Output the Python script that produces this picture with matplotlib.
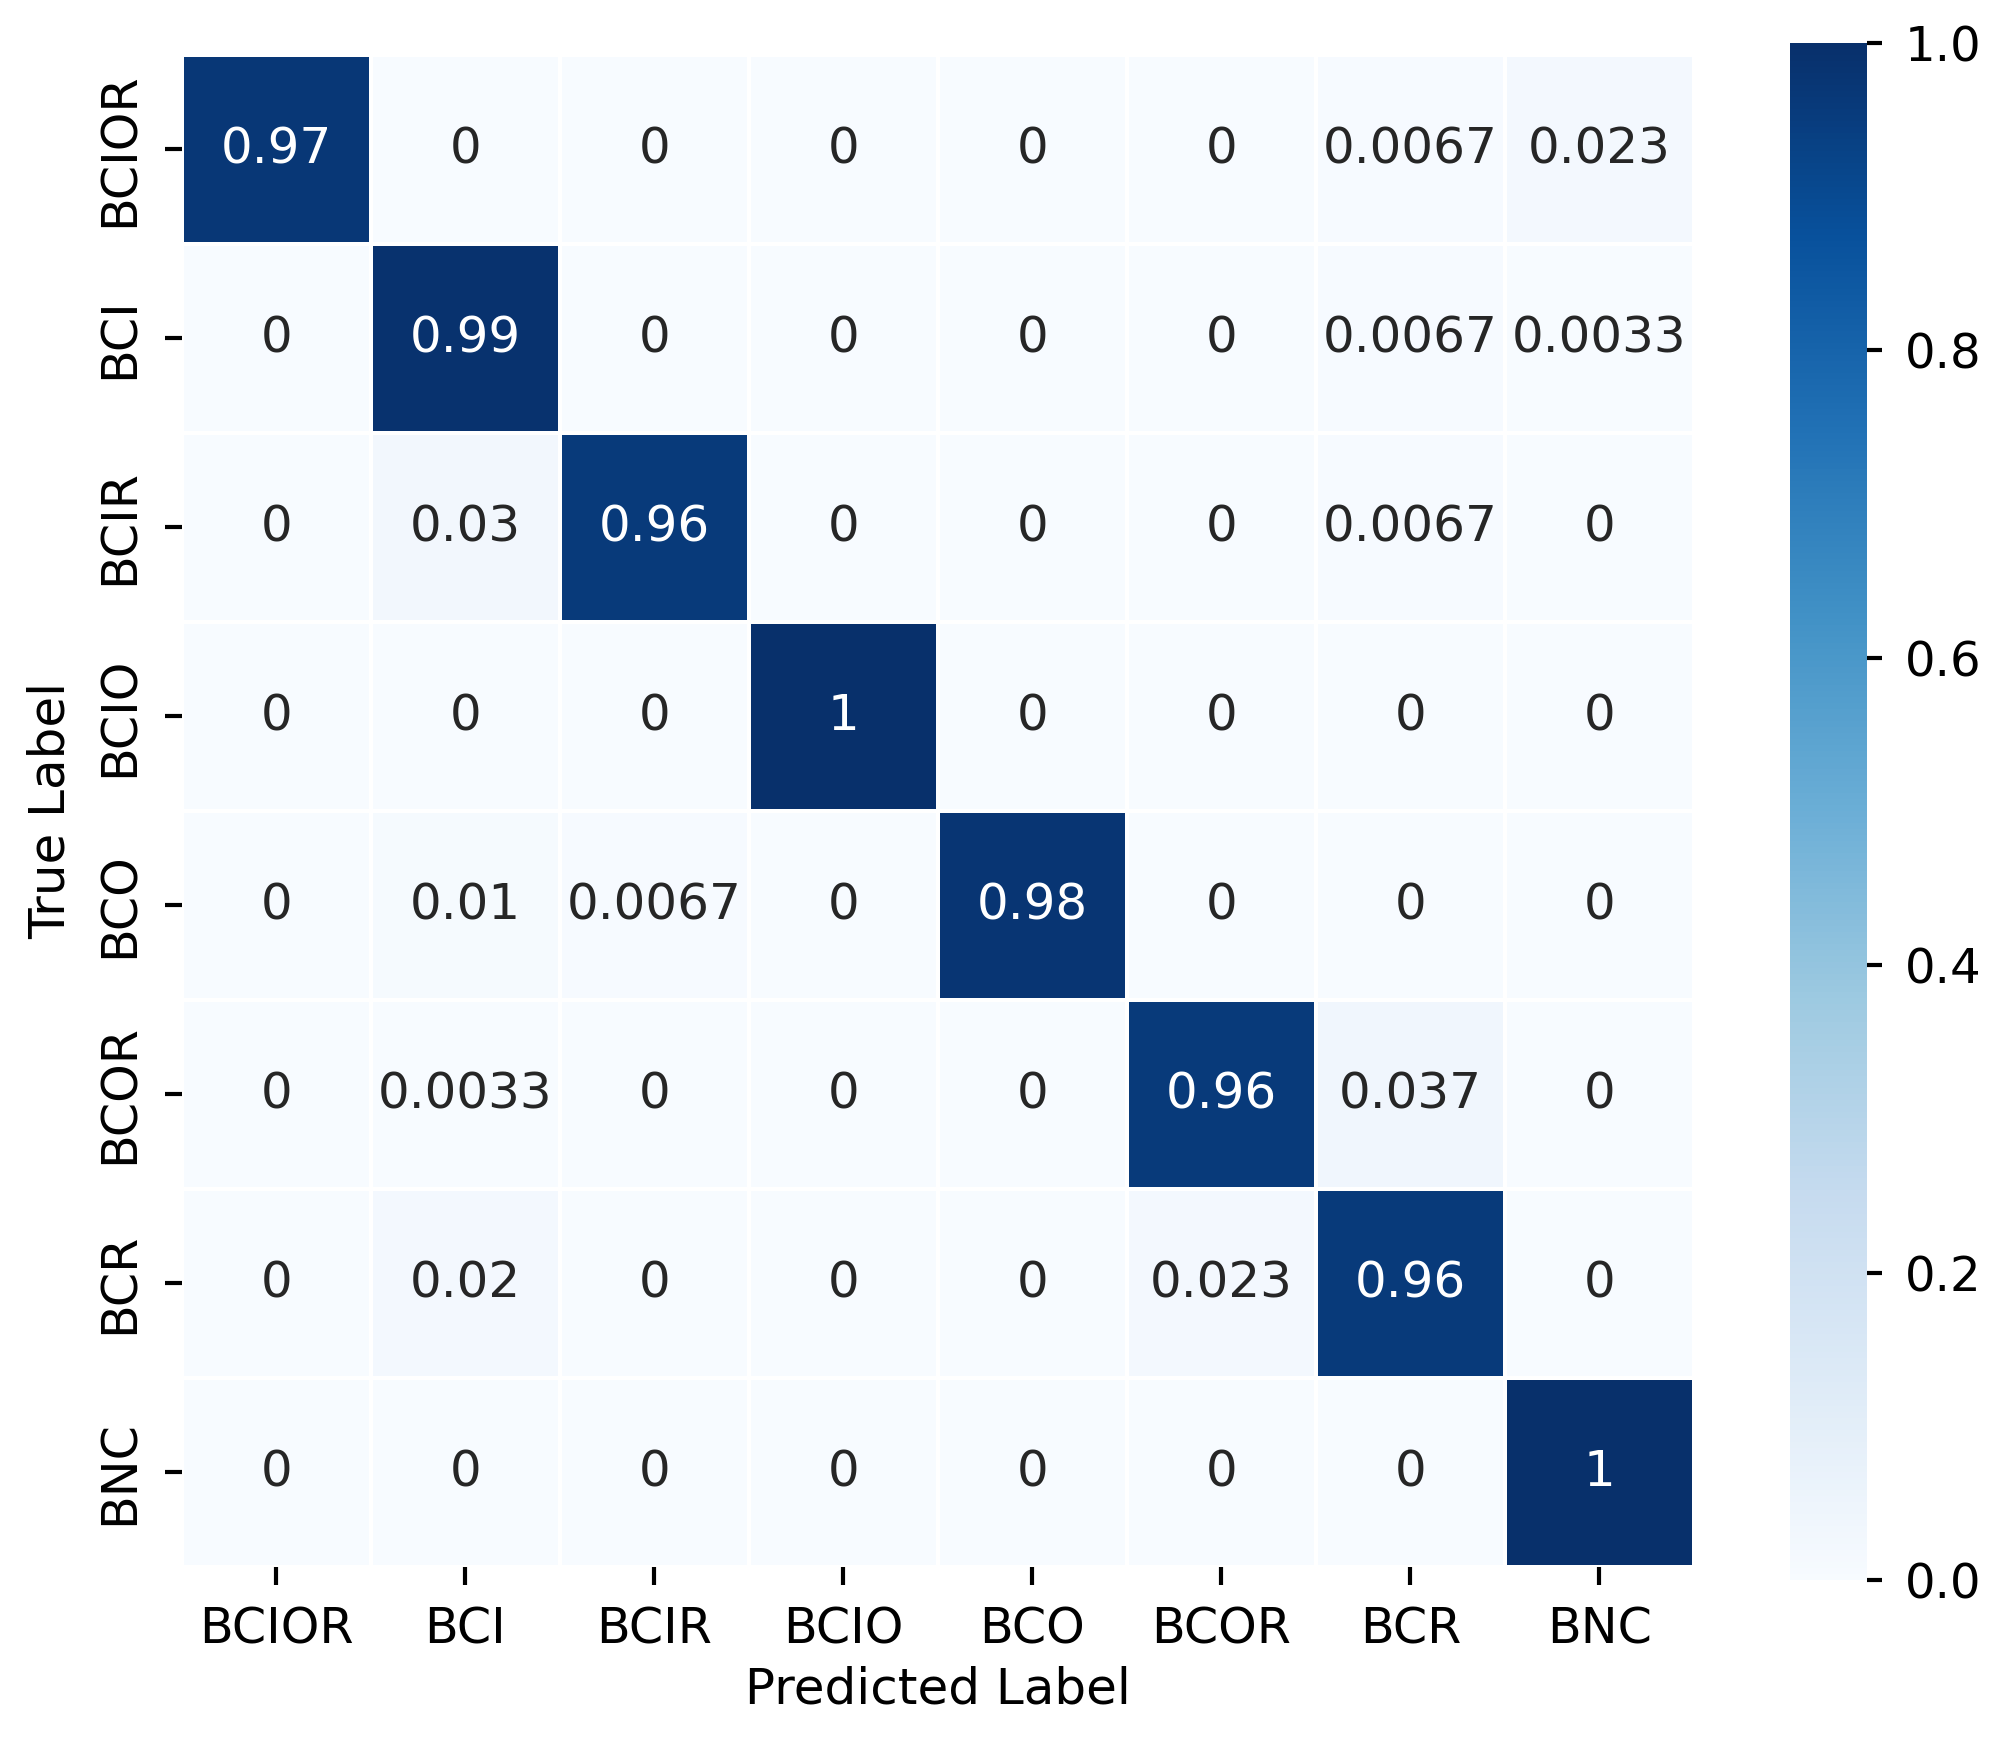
import numpy as np
import matplotlib
matplotlib.use("Agg")
from matplotlib import pyplot as plt

labels = ["BCIOR", "BCI", "BCIR", "BCIO", "BCO", "BCOR", "BCR", "BNC"]

# normalised confusion matrix, rows = true, cols = predicted
row_bcior = [0.97, 0, 0, 0, 0, 0, 0.0067, 0.023]
row_bci = [0, 0.99, 0, 0, 0, 0, 0.0067, 0.0033]
row_bcir = [0, 0.03, 0.96, 0, 0, 0, 0.0067, 0]
row_bcio = [0, 0, 0, 1, 0, 0, 0, 0]
row_bco = [0, 0.01, 0.0067, 0, 0.98, 0, 0, 0]
row_bcor = [0, 0.0033, 0, 0, 0, 0.96, 0.037, 0]
row_bcr = [0, 0.02, 0, 0, 0, 0.023, 0.96, 0]
row_bnc = [0, 0, 0, 0, 0, 0, 0, 1]

cm = np.array([row_bcior, row_bci, row_bcir, row_bcio,
               row_bco, row_bcor, row_bcr, row_bnc])
n = len(labels)

fig = plt.figure(figsize=(6.65, 5.79), dpi=300)
ax = fig.add_axes([0.0912, 0.0979, 0.7579, 0.8705])
cax = fig.add_axes([0.8972, 0.0904, 0.0386, 0.8849])

cmap = plt.get_cmap("Blues")
mesh = ax.pcolormesh(cm, cmap=cmap, vmin=0, vmax=1,
                     edgecolors="white", linewidth=0.9)
ax.set_xlim(0, n)
ax.set_ylim(n, 0)

# cell annotations, light text on dark cells
for i in range(n):
    for j in range(n):
        v = cm[i, j]
        r, g, b, _ = cmap(v)
        lum = 0.2126 * r ** 2.2 + 0.7152 * g ** 2.2 + 0.0722 * b ** 2.2
        col = "#262626" if lum > 0.408 else "white"
        ax.text(j + 0.5, i + 0.5, format(v, ".2g"), ha="center", va="center",
                fontsize=12, color=col)

for s in ax.spines.values():
    s.set_visible(False)

ax.set_xticks(np.arange(n) + 0.5)
ax.set_yticks(np.arange(n) + 0.5)
ax.set_xticklabels(labels, fontsize=11.8)
ax.set_yticklabels(labels, fontsize=11.8, rotation=90, va="center")
ax.tick_params(length=4.2, width=1.0, pad=5)
ax.set_xlabel("Predicted Label", fontsize=12, labelpad=3)
ax.set_ylabel("True Label", fontsize=12, labelpad=5)

cb = fig.colorbar(mesh, cax=cax)
cb.outline.set_visible(False)
cb.set_ticks([0, 0.2, 0.4, 0.6, 0.8, 1.0])
cax.tick_params(length=3.6, width=1.0, pad=5.5, labelsize=11.6)

fig.savefig("out.png", dpi=300)
